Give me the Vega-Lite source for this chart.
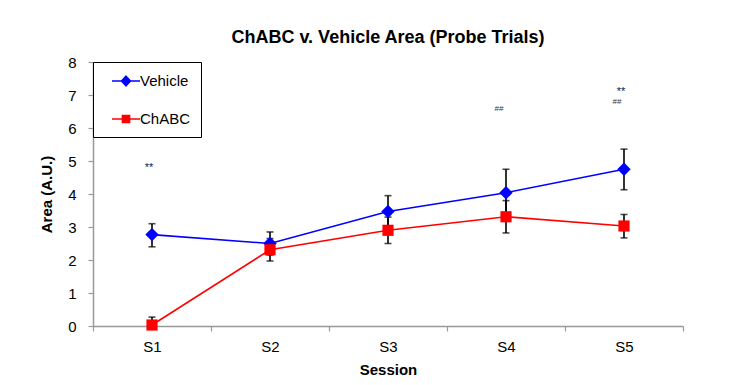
{
  "$schema": "https://vega.github.io/schema/vega-lite/v6.json",
  "autosize": "none",
  "width": 590,
  "height": 264,
  "padding": {"left": 93, "top": 62, "right": 55, "bottom": 59},
  "background": "white",
  "title": {
    "text": "ChABC v. Vehicle Area (Probe Trials)",
    "font": "Liberation Sans",
    "fontSize": 18,
    "fontWeight": "bold",
    "color": "black",
    "offset": 8
  },
  "datasets": {
    "series": [
      {"session": "S1", "group": "Vehicle", "mean": 2.77, "lo": 2.40, "hi": 3.10},
      {"session": "S2", "group": "Vehicle", "mean": 2.50, "lo": 2.15, "hi": 2.85},
      {"session": "S3", "group": "Vehicle", "mean": 3.47, "lo": 3.00, "hi": 3.95},
      {"session": "S4", "group": "Vehicle", "mean": 4.04, "lo": 3.33, "hi": 4.75},
      {"session": "S5", "group": "Vehicle", "mean": 4.75, "lo": 4.13, "hi": 5.36},
      {"session": "S1", "group": "ChABC", "mean": 0.03, "lo": 0.0, "hi": 0.27},
      {"session": "S2", "group": "ChABC", "mean": 2.31, "lo": 1.97, "hi": 2.65},
      {"session": "S3", "group": "ChABC", "mean": 2.90, "lo": 2.50, "hi": 3.30},
      {"session": "S4", "group": "ChABC", "mean": 3.31, "lo": 2.82, "hi": 3.80},
      {"session": "S5", "group": "ChABC", "mean": 3.03, "lo": 2.67, "hi": 3.38}
    ],
    "marks": [
      {"session": "S1", "label": "**", "y": 4.8},
      {"session": "S4", "label": "##", "y": 6.57},
      {"session": "S5", "label": "**", "y": 7.08},
      {"session": "S5", "label": "##", "y": 6.78}
    ]
  },
  "encoding": {
    "x": {
      "field": "session",
      "type": "nominal",
      "scale": {"type": "band", "paddingInner": 0, "paddingOuter": 0},
      "axis": {
        "title": "Session",
        "labelAngle": 0,
        "tickBand": "extent",
        "tickSize": 5,
        "labelPadding": 8,
        "titlePadding": 8
      }
    }
  },
  "layer": [
    {
      "data": {"name": "series"},
      "mark": {"type": "line", "strokeWidth": 1.6},
      "encoding": {
        "y": {"field": "mean", "type": "quantitative", "title": "Area (A.U.)",
          "scale": {"domain": [0, 8]}},
        "color": {"field": "group", "type": "nominal", "sort": ["Vehicle", "ChABC"],
          "scale": {"domain": ["Vehicle", "ChABC"], "range": ["#0000ff", "#ff0000"]},
          "legend": {
            "title": null,
            "orient": "top-left",
            "offset": 0,
            "padding": 10,
            "rowPadding": 21,
            "symbolSize": 256,
            "symbolOffset": 14,
            "labelOffset": 5,
            "labelFontSize": 15,
            "labelColor": "black",
            "labelExpr": "datum.label + '\u00a0\u00a0'",
            "strokeColor": "black",
            "fillColor": "white",
            "encode": {
              "symbols": {"update": {
                "shape": {"signal": "datum.value === 'Vehicle' ? 'M-1.75,0H1.75M0,-0.6L0.56,0L0,0.6L-0.56,0Z' : 'M-1.75,0H1.75M-0.45,-0.45H0.45V0.45H-0.45Z'"},
                "fill": {"signal": "datum.value === 'Vehicle' ? '#0000ff' : '#ff0000'"},
                "stroke": {"signal": "datum.value === 'Vehicle' ? '#0000ff' : '#ff0000'"},
                "strokeWidth": {"value": 1.5},
                "opacity": {"value": 1},
                "fillOpacity": {"value": 1}
              }}
            }
          }},
        "order": {"field": "group", "sort": "descending"}
      }
    },
    {
      "data": {"name": "series"},
      "mark": {"type": "errorbar", "color": "black", "thickness": 1.6,
        "ticks": {"size": 7, "thickness": 1.6, "color": "black"}},
      "encoding": {
        "y": {"field": "lo", "type": "quantitative", "title": "Area (A.U.)"},
        "y2": {"field": "hi"}
      }
    },
    {
      "data": {"name": "series"},
      "transform": [{"filter": "datum.group === 'Vehicle'"}],
      "mark": {"type": "point", "filled": true, "opacity": 1, "shape": "diamond", "size": 180, "color": "#0000ff"},
      "encoding": {
        "y": {"field": "mean", "type": "quantitative", "title": "Area (A.U.)"}
      }
    },
    {
      "data": {"name": "series"},
      "transform": [{"filter": "datum.group === 'ChABC'"}],
      "mark": {"type": "point", "filled": true, "opacity": 1, "shape": "square", "size": 125, "color": "#ff0000"},
      "encoding": {
        "y": {"field": "mean", "type": "quantitative", "title": "Area (A.U.)"}
      }
    },
    {
      "data": {"name": "marks"},
      "transform": [{"filter": "datum.label === '**'"}],
      "mark": {"type": "text", "font": "Liberation Sans", "fontSize": 11, "color": "#222222", "dx": -3},
      "encoding": {
        "y": {"field": "y", "type": "quantitative", "title": "Area (A.U.)"},
        "text": {"field": "label"}
      }
    },
    {
      "data": {"name": "marks"},
      "transform": [{"filter": "datum.label === '##'"}],
      "mark": {"type": "text", "font": "Liberation Sans", "fontSize": 8, "color": "#333333", "dx": -7},
      "encoding": {
        "y": {"field": "y", "type": "quantitative", "title": "Area (A.U.)"},
        "text": {"field": "label"}
      }
    }
  ],
  "config": {
    "view": {"stroke": null},
    "font": "Liberation Sans",
    "axis": {
      "domainColor": "#999999",
      "domainWidth": 1.5,
      "tickColor": "#999999",
      "tickWidth": 1.2,
      "grid": false,
      "labelFont": "Liberation Sans",
      "labelFontSize": 15,
      "labelColor": "black",
      "titleFont": "Liberation Sans",
      "titleFontSize": 15,
      "titleFontWeight": "bold",
      "titleColor": "black"
    },
    "axisY": {
      "tickSize": 5,
      "labelPadding": 12,
      "titlePadding": 13,
      "values": [0, 1, 2, 3, 4, 5, 6, 7, 8]
    }
  }
}
